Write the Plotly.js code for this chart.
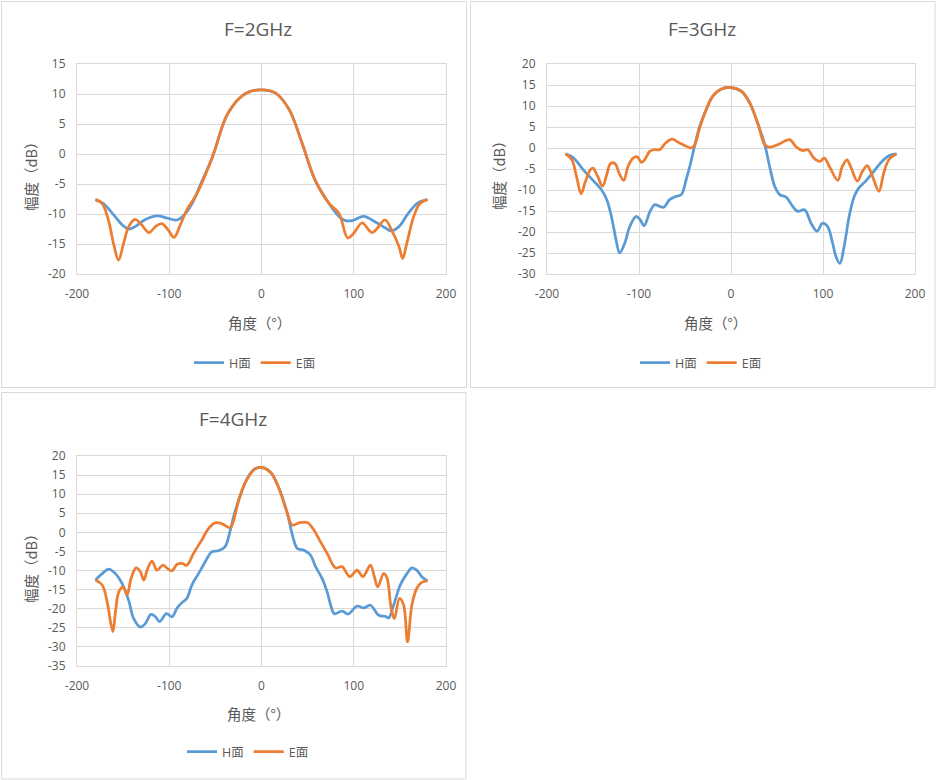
<!DOCTYPE html>
<html>
<head>
<meta charset="utf-8">
<script src="https://cdn.plot.ly/plotly-3.0.1.min.js"></script>
<style>
  html, body { margin: 0; padding: 0; background: #ffffff; }
  #chart { width: 936px; height: 780px; }
  #chart g.annotation[data-index="3"] text,
  #chart g.annotation[data-index="4"] text,
  #chart g.annotation[data-index="5"] text { font-feature-settings: "fwid" 1; }
</style>
</head>
<body>
<div id="chart"></div>
<script>
// ---------- Data ----------
const seriesNames = ['H面', 'E面'];
const panelTitles = ['F=2GHz', 'F=3GHz', 'F=4GHz'];
const xTitle = '角度（°）';
const yTitle = '幅度（dB）';

const xTickVals = [-200, -100, 0, 100, 200];
const xTickText = ['-200', '-100', '0', '100', '200'];
const y1TickVals = [-20, -15, -10, -5, 0, 5, 10, 15];
const y1TickText = ['-20', '-15', '-10', '-5', '0', '5', '10', '15'];
const y2TickVals = [-30, -25, -20, -15, -10, -5, 0, 5, 10, 15, 20];
const y2TickText = ['-30', '-25', '-20', '-15', '-10', '-5', '0', '5', '10', '15', '20'];
const y3TickVals = [-35, -30, -25, -20, -15, -10, -5, 0, 5, 10, 15, 20];
const y3TickText = ['-35', '-30', '-25', '-20', '-15', '-10', '-5', '0', '5', '10', '15', '20'];

// F = 2 GHz
const f2H_angle = [-180, -171, -160, -151, -144, -137, -126, -113, -102, -92, -84, -75, -67, -53, -38, -24, -13, 0, 15, 30, 44, 58, 73, 84, 91, 98, 111, 123, 134, 140, 149, 159, 170, 180];
const f2H_gain  = [-7.6, -8.3, -10.2, -11.8, -12.5, -12.1, -10.9, -10.3, -10.7, -11.0, -10.2, -8.2, -5.4, -0.4, 6.3, 9.3, 10.4, 10.7, 10.2, 7.4, 1.8, -4.3, -8.2, -10.4, -11.1, -11.1, -10.4, -11.3, -12.3, -12.8, -12.1, -9.9, -8.1, -7.6];
const f2E_angle = [-180, -173, -166, -160, -155, -149.5, -144, -137, -130, -122, -115, -108, -101, -95, -88, -81, -70, -53, -38, -24, -13, 0, 15, 30, 44, 58, 73, 84, 93.5, 100, 109, 120, 134, 141, 149, 153, 157.5, 165, 172, 180];
const f2E_gain  = [-7.6, -8.2, -11.0, -15.2, -17.7, -14.9, -12.1, -10.9, -11.8, -13.1, -12.1, -11.6, -12.7, -13.9, -11.8, -9.3, -6.6, -0.4, 6.3, 9.3, 10.4, 10.7, 10.2, 7.4, 1.8, -4.3, -8.2, -9.9, -14.0, -13.2, -11.5, -13.1, -11.0, -12.7, -15.4, -17.4, -14.9, -10.4, -8.2, -7.6];

// F = 3 GHz
const f3H_angle = [-180, -171, -160.5, -150, -141, -135, -130, -125, -121, -115.4, -110, -103, -99, -94.5, -88, -83, -77.6, -73, -66.7, -59.5, -54, -48.7, -43, -39.7, -34, -27, -20, -11, 0, 11.5, 20.5, 29.5, 36.7, 42, 47.5, 53, 60, 67, 72.7, 80, 87, 93.5, 99.6, 105, 110.4, 114, 118.3, 123, 128.4, 134, 139, 146.4, 153.6, 160.8, 168, 173.4, 180];
const f3H_gain  = [-1.4, -2.4, -5.2, -7.7, -9.9, -12.3, -16.3, -21.8, -25.0, -22.6, -18.7, -16.3, -17.0, -18.5, -15.1, -13.5, -13.9, -14.1, -12.3, -11.5, -11.1, -7.5, -2.8, 0.4, 5.2, 9.1, 12.3, 14.0, 14.4, 13.5, 10.7, 5.6, 0.8, -4.4, -9.1, -11.1, -11.7, -13.9, -15.1, -14.7, -17.9, -19.8, -17.9, -18.7, -22.6, -25.8, -27.5, -23.4, -16.3, -11.5, -9.5, -7.9, -6.0, -4.0, -2.4, -1.7, -1.4];
const f3E_angle = [-180, -173, -168, -163, -158.7, -153, -150, -145, -139.6, -135, -131, -126, -121.6, -116.5, -112, -106.4, -102, -97.4, -93.8, -88.4, -83, -77.6, -71, -64, -57.7, -50.5, -43.3, -39.7, -34, -27, -20, -11, 0, 11.5, 20.5, 29.5, 36.7, 42, 51, 63.7, 71, 78, 83.5, 90, 96.8, 101.4, 107, 116, 121, 126, 130, 137.4, 142.8, 148, 152.5, 160.8, 166, 171.6, 180];
const f3E_gain  = [-1.4, -2.8, -6.7, -10.9, -8.3, -5.2, -4.8, -6.7, -9.1, -6.3, -3.7, -3.7, -6.0, -7.7, -4.4, -2.4, -2.1, -3.4, -2.8, -0.8, -0.4, -0.4, 1.2, 2.1, 1.4, 0.6, 0.0, 0.6, 4.8, 9.1, 12.3, 14.0, 14.4, 13.5, 10.7, 5.6, 0.8, 0.2, 0.8, 2.0, 0.2, -0.6, -0.4, -2.4, -3.2, -2.4, -4.4, -7.7, -4.4, -2.8, -4.4, -7.9, -5.6, -4.2, -6.0, -10.3, -6.0, -2.8, -1.4];

// F = 4 GHz
const f4H_angle = [-180, -172.7, -165.5, -158.3, -151, -144, -138.5, -131.3, -126, -119.8, -115, -110.4, -103.2, -97, -91.7, -86.3, -81, -75.5, -68.3, -61, -54, -46.8, -39.6, -34.2, -28.8, -21.6, -14.4, -7.2, 0, 10, 19, 28, 33.5, 38.8, 46, 53.2, 58.6, 65.8, 71.2, 75.5, 79, 87.4, 93.9, 103.6, 110.8, 118, 127, 134.2, 137.8, 143.2, 150.4, 157.6, 163, 168.3, 173.7, 180];
const f4H_gain  = [-12.5, -10.8, -9.6, -10.8, -13.4, -17.8, -22.6, -24.8, -23.9, -21.5, -22.1, -23.4, -21.3, -22.1, -19.9, -18.4, -17.3, -13.8, -10.8, -7.7, -5.1, -4.8, -3.8, 0.2, 5.4, 10.6, 14.6, 16.6, 17.0, 15.7, 11.5, 5.0, -0.7, -4.2, -4.7, -6.0, -9.0, -12.1, -15.6, -19.5, -21.3, -20.6, -21.4, -19.3, -19.8, -19.1, -21.7, -22.0, -22.4, -19.1, -13.8, -10.8, -9.3, -9.9, -11.6, -12.7];
const f4E_angle = [-180, -172.7, -167.3, -163.7, -161, -158.3, -154.7, -150, -145.7, -141.4, -136, -131.3, -127.7, -123.4, -118.7, -113.3, -106.8, -101.8, -97, -91.7, -86.3, -81, -73.7, -64.7, -57.5, -50.4, -43.2, -34.2, -30.6, -25.2, -18, -7.2, 0, 10, 19, 28, 33.5, 40.6, 49.6, 56.8, 64, 71.2, 80.2, 87.4, 95.7, 103.6, 110, 118, 122.3, 126, 132.4, 136, 140.6, 144, 149.6, 154, 158.3, 163, 168.3, 173.7, 180];
const f4E_gain  = [-12.5, -13.8, -18.2, -23.4, -26.0, -20.8, -15.6, -14.3, -16.3, -12.1, -9.3, -10.3, -12.5, -9.5, -7.5, -9.9, -8.6, -9.5, -10.1, -8.4, -8.1, -8.6, -5.5, -2.0, 1.0, 2.5, 2.3, 1.2, 2.8, 8.0, 12.8, 16.6, 17.0, 15.7, 11.5, 5.0, 1.9, 2.5, 2.6, 0.6, -2.5, -5.5, -9.3, -9.0, -11.6, -9.9, -11.6, -8.6, -11.6, -14.3, -10.8, -11.9, -19.9, -22.6, -17.3, -19.0, -28.7, -19.0, -14.7, -13.1, -12.7];

// ---------- Styling ----------
const W = 936, H = 780;
const px = v => v / W;
const py = v => 1 - v / H;
const FONT = 'Open Sans, "Noto Sans CJK SC", sans-serif';
const CJK = '"Noto Sans CJK SC", "Open Sans", sans-serif';
const TXT = '#595959';
const GRID = '#D9D9D9';
const BLUE = '#5B9BD5';
const ORANGE = '#ED7D31';

function trace(x, y, name, color, xa, ya, lg) {
  return {
    type: 'scatter', mode: 'lines', x: x, y: y, name: name,
    xaxis: xa, yaxis: ya, legend: lg,
    line: { color: color, width: 2.75, shape: 'spline', smoothing: 1 },
    hoverinfo: 'skip'
  };
}

const data = [
  trace(f2H_angle, f2H_gain, seriesNames[0], BLUE, 'x', 'y', 'legend'),
  trace(f2E_angle, f2E_gain, seriesNames[1], ORANGE, 'x', 'y', 'legend'),
  trace(f3H_angle, f3H_gain, seriesNames[0], BLUE, 'x2', 'y2', 'legend2'),
  trace(f3E_angle, f3E_gain, seriesNames[1], ORANGE, 'x2', 'y2', 'legend2'),
  trace(f4H_angle, f4H_gain, seriesNames[0], BLUE, 'x3', 'y3', 'legend3'),
  trace(f4E_angle, f4E_gain, seriesNames[1], ORANGE, 'x3', 'y3', 'legend3')
];

function xAxis(domain, anchor) {
  return {
    domain: domain, anchor: anchor, range: [-200, 200],
    tickmode: 'array', tickvals: xTickVals, ticktext: xTickText,
    showgrid: true, gridcolor: GRID, gridwidth: 1,
    zeroline: false, showline: true, linecolor: GRID, linewidth: 1, mirror: true,
    ticks: 'outside', ticklen: 9, tickcolor: 'rgba(0,0,0,0)',
    tickfont: { family: FONT, size: 12, color: TXT }, fixedrange: true
  };
}
function yAxis(domain, anchor, range, tv, tt) {
  return {
    domain: domain, anchor: anchor, range: range,
    tickmode: 'array', tickvals: tv, ticktext: tt,
    showgrid: true, gridcolor: GRID, gridwidth: 1,
    zeroline: false, showline: true, linecolor: GRID, linewidth: 1, mirror: true,
    ticks: 'outside', ticklen: 8, tickcolor: 'rgba(0,0,0,0)',
    tickfont: { family: FONT, size: 12, color: TXT }, fixedrange: true
  };
}
function legendAt(x, y) {
  return {
    x: px(x), y: py(y), xanchor: 'center', yanchor: 'middle',
    orientation: 'h', bgcolor: 'rgba(0,0,0,0)',
    font: { family: FONT, size: 12.5, color: TXT },
    itemwidth: 30, tracegroupgap: 0
  };
}
function textAnn(text, x, y, size, angle, family) {
  return {
    text: text, xref: 'paper', yref: 'paper', x: px(x), y: py(y),
    xanchor: 'center', yanchor: 'middle', showarrow: false,
    textangle: angle || 0,
    font: { family: family || FONT, size: size, color: TXT }
  };
}
function box(x0, y0, x1, y1) {
  return {
    type: 'rect', xref: 'paper', yref: 'paper',
    x0: px(x0), x1: px(x1), y0: py(y1), y1: py(y0),
    line: { color: GRID, width: 1 }, fillcolor: 'rgba(0,0,0,0)', layer: 'below'
  };
}

const layout = {
  width: W, height: H,
  margin: { l: 0, r: 0, t: 0, b: 0, pad: 0 },
  paper_bgcolor: '#ffffff', plot_bgcolor: '#ffffff',
  font: { family: FONT, color: TXT },
  showlegend: true,
  xaxis:  xAxis([px(77), px(446)], 'y'),
  yaxis:  yAxis([py(274), py(64)], 'x', [-20, 15], y1TickVals, y1TickText),
  xaxis2: xAxis([px(547), px(915)], 'y2'),
  yaxis2: yAxis([py(274), py(64)], 'x2', [-30, 20], y2TickVals, y2TickText),
  xaxis3: xAxis([px(77), px(446)], 'y3'),
  yaxis3: yAxis([py(666), py(456)], 'x3', [-35, 20], y3TickVals, y3TickText),
  legend:  legendAt(255, 363),
  legend2: legendAt(701, 363),
  legend3: legendAt(248, 752),
  shapes: [
    box(1.5, 1.5, 466.5, 387.5),
    box(470.5, 1.5, 935, 387.5),
    box(1.5, 392.5, 466, 779)
  ],
  annotations: [
    textAnn(panelTitles[0], 258, 29, 19),
    textAnn(panelTitles[1], 702, 29, 19),
    textAnn(panelTitles[2], 233, 419, 19),
    textAnn(xTitle, 259, 322, 14.5, 0, CJK),
    textAnn(xTitle, 715, 322, 14.5, 0, CJK),
    textAnn(xTitle, 258, 713, 14.5, 0, CJK),
    textAnn(yTitle, 30, 172, 14.5, -90, CJK),
    textAnn(yTitle, 498, 172, 14.5, -90, CJK),
    textAnn(yTitle, 30, 564, 14.5, -90, CJK)
  ]
};

Plotly.newPlot('chart', data, layout, { staticPlot: true, displayModeBar: false });
</script>
</body>
</html>
